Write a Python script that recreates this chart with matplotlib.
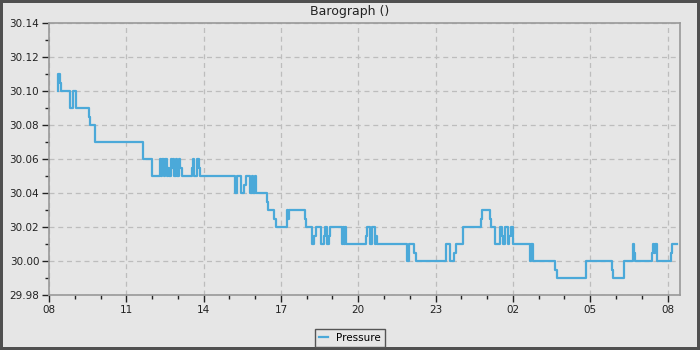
import datetime as dt
import matplotlib
matplotlib.use("Agg")
import matplotlib.pyplot as plt
import matplotlib.dates as mdates

# readings (clock time, inHg), each value held until the next reading
times = ["08:20", "08:21", "08:25", "08:28", "08:48", "08:50", "08:56", "09:02", "09:04",
         "09:32", "09:35", "09:46", "11:40", "11:59",
         "12:19", "12:21", "12:23", "12:28", "12:30", "12:34", "12:37", "12:40", "12:44",
         "12:46", "12:49", "12:51", "12:55", "12:58", "13:02", "13:05", "13:09",
         "13:34", "13:35", "13:38", "13:44", "13:49", "13:51",
         "15:12", "15:17", "15:27", "15:33", "15:38", "15:48", "15:52", "15:55", "15:59", "16:02",
         "16:27", "16:30", "16:44", "16:48", "17:14", "17:17", "17:19", "17:55", "17:59",
         "18:12", "18:17", "18:21", "18:34", "18:40", "18:43", "18:48", "18:52", "18:55",
         "19:22", "19:24", "19:26", "19:28", "19:31",
         "20:18", "20:21", "20:28", "20:32", "20:39", "20:42", "20:44",
         "21:53", "21:58", "22:10", "22:15", "23:25", "23:33", "23:44", "23:48",
         "00:05", "00:46", "00:49", "01:07", "01:09", "01:19", "01:29", "01:34", "01:36",
         "01:42", "01:48", "01:52", "01:56", "02:01",
         "02:40", "02:43", "02:46", "03:38", "03:42", "04:51",
         "05:50", "05:52", "06:19", "06:40", "06:42", "06:44",
         "07:24", "07:27", "07:29", "07:31", "07:36", "08:09", "08:11", "08:23"]
pressure = [30.10, 30.11, 30.105, 30.10, 30.095, 30.09, 30.10, 30.095, 30.09,
            30.085, 30.08, 30.07, 30.06, 30.05,
            30.06, 30.05, 30.06, 30.05, 30.06, 30.05, 30.055, 30.05, 30.06,
            30.055, 30.06, 30.05, 30.06, 30.05, 30.06, 30.055, 30.05,
            30.055, 30.06, 30.05, 30.06, 30.055, 30.05,
            30.04, 30.05, 30.04, 30.045, 30.05, 30.04, 30.05, 30.04, 30.05, 30.04,
            30.035, 30.03, 30.025, 30.02, 30.03, 30.025, 30.03, 30.025, 30.02,
            30.01, 30.015, 30.02, 30.01, 30.015, 30.02, 30.01, 30.015, 30.02,
            30.01, 30.02, 30.01, 30.02, 30.01,
            30.015, 30.02, 30.01, 30.02, 30.01, 30.015, 30.01,
            30.00, 30.01, 30.005, 30.00, 30.01, 30.00, 30.005, 30.01,
            30.02, 30.025, 30.03, 30.025, 30.02, 30.01, 30.02, 30.015, 30.01,
            30.02, 30.01, 30.015, 30.02, 30.01,
            30.00, 30.01, 30.00, 29.995, 29.99, 30.00,
            29.995, 29.99, 30.00, 30.01, 30.005, 30.00,
            30.005, 30.01, 30.005, 30.01, 30.00, 30.005, 30.01, 30.01]

# turn clock strings into datetimes, rolling over past midnight
day = dt.datetime(2021, 3, 1)
stamps = []
prev = None
for t in times:
    hh, mm = map(int, t.split(":"))
    d = day.replace(hour=hh, minute=mm)
    if prev is not None and d < prev:
        day = day + dt.timedelta(days=1)
        d = day.replace(hour=hh, minute=mm)
    stamps.append(d)
    prev = d

bg = "#e6e6e6"
fig = plt.figure(figsize=(7, 3.5), dpi=100, facecolor=bg,
                 edgecolor="#505050", linewidth=3)
ax = fig.add_axes([0.07, 0.157, 0.9014, 0.777], facecolor=bg)

ax.step(stamps, pressure, where="post", color="#4ba9d9", lw=1.6, label="Pressure")

start = dt.datetime(2021, 3, 1, 8, 0)
ax.set_xlim(start, start + dt.timedelta(hours=24, minutes=29))
ax.set_ylim(29.98, 30.14)
ax.set_yticks([29.98 + 0.02 * i for i in range(9)])
ax.set_yticks([29.99 + 0.02 * i for i in range(8)], minor=True)
ax.yaxis.set_major_formatter(plt.FormatStrFormatter("%.2f"))

ax.xaxis.set_major_locator(mdates.HourLocator(byhour=[2, 5, 8, 11, 14, 17, 20, 23]))
ax.xaxis.set_minor_locator(mdates.HourLocator())
ax.xaxis.set_major_formatter(mdates.DateFormatter("%H"))

ax.grid(True, which="major", ls=(0, (4, 3)), color="#bdbdbd", lw=0.9)
ax.tick_params(which="major", length=5, width=1, color="#222222", labelsize=7.5,
               labelcolor="#222222", pad=2)
ax.tick_params(which="minor", length=3, width=1, color="#222222")
for s in ax.spines.values():
    s.set_color("#999999")
    s.set_linewidth(1.2)

fig.text(0.5, 0.968, "Barograph ()", ha="center", va="center", fontsize=9, color="#222222")

leg = fig.legend(loc="center", bbox_to_anchor=(0.5, 0.034), fontsize=7.5,
                 handlelength=0.9, handletextpad=0.8, borderpad=0.35,
                 fancybox=False, framealpha=1, facecolor=bg, edgecolor="#555555")
leg.get_frame().set_linewidth(1)

fig.savefig("out.png", dpi=100, facecolor=bg, edgecolor="#505050")
